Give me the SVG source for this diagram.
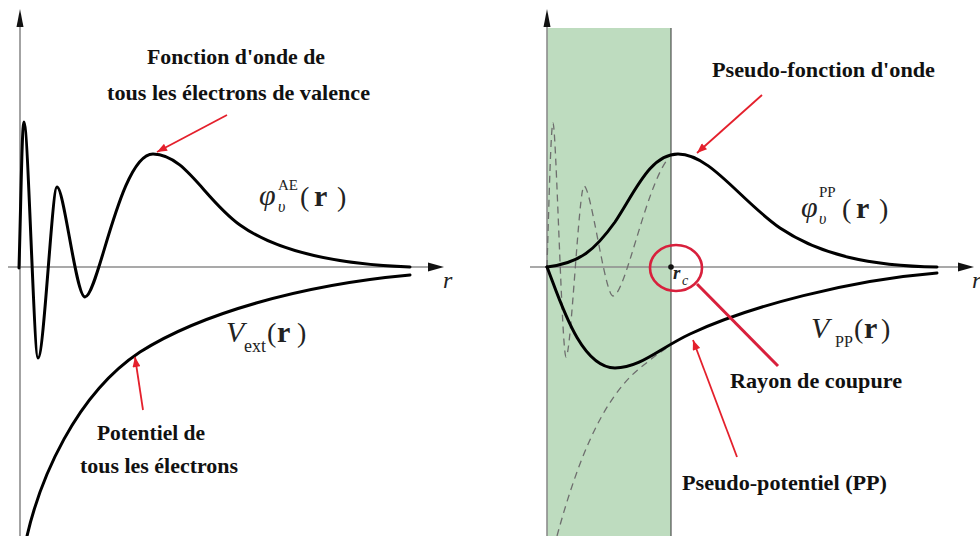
<svg xmlns="http://www.w3.org/2000/svg" width="980" height="536" viewBox="0 0 980 536">
<defs>
<style>
.axis{stroke:#8c8c8c;stroke-width:1.6;fill:none}
.curve{stroke:#000;stroke-width:3;fill:none;stroke-linecap:round;stroke-linejoin:round}
.dash{stroke:#6e6e6e;stroke-width:1.3;fill:none;stroke-dasharray:7 5}
.red{stroke:#e4202c;stroke-width:1.8;fill:none}
.lbl{font-family:'Liberation Serif','DejaVu Serif',serif;font-weight:bold;font-size:21px;fill:#111}
.m{font-family:'Liberation Serif','DejaVu Serif',serif;fill:#222}
.it{font-style:italic}
.bd{font-weight:bold}
</style>
<marker id="ah" viewBox="0 0 10 8" refX="10" refY="4" markerWidth="11" markerHeight="8" markerUnits="userSpaceOnUse" orient="auto">
<path d="M0,0 L10,4 L0,8 z" fill="#e4202c"/>
</marker>
</defs>
<rect width="980" height="536" fill="#fff"/>

<g id="core-region">
<rect x="547" y="28" width="124" height="508" fill="#bedcbf"/>
<line x1="671" y1="28" x2="671" y2="536" stroke="#333" stroke-width="1"/>
</g>

<g id="axes">
<line class="axis" x1="20" y1="536" x2="20" y2="20"/>
<polygon points="20,9 16.5,27 23.5,27" fill="#111"/>
<line class="axis" x1="8" y1="267" x2="432" y2="267"/>
<polygon points="444,267 428,262.5 428,271.5" fill="#111"/>
<text class="m it" x="443" y="288" font-size="24">r</text>
<line class="axis" x1="547" y1="536" x2="547" y2="20"/>
<polygon points="547,9 543.5,27 550.5,27" fill="#111"/>
<line class="axis" x1="530" y1="267" x2="962" y2="267"/>
<polygon points="974,267 958,262.5 958,271.5" fill="#111"/>
<text class="m it" x="972" y="288" font-size="24">r</text>
</g>

<g id="ae-wavefunction">
<path class="curve" d="M19,268 C21,200 22,122 24,122 C28,122 34,358 38,358 C44,358 52,187 57,187 C64,187 76,297 85,297 C98,297 120,154 153,154 C185,154 205,200 240,225 C275,250 330,264 410,267"/>
<text class="m"><tspan class="it" x="259" y="205" font-size="30">φ</tspan><tspan class="it" x="278" y="212" font-size="16">υ</tspan><tspan x="278" y="190" font-size="15">AE</tspan><tspan x="300" y="206" font-size="28">(</tspan><tspan class="bd" x="314" y="206" font-size="30">r</tspan><tspan x="337" y="206" font-size="28">)</tspan></text>
</g>

<g id="v-ext">
<path class="curve" d="M27,536 C40,480 75,395 140,352 C200,314 300,285 410,275"/>
<text class="m"><tspan class="it" x="226" y="342" font-size="30">V</tspan><tspan x="244" y="352" font-size="18">ext</tspan><tspan x="267" y="342" font-size="28">(</tspan><tspan class="bd" x="277" y="342" font-size="30">r</tspan><tspan x="297" y="342" font-size="28">)</tspan></text>
</g>

<g id="ae-reference-dashed">
<path class="dash" d="M547,267 C549,200 551,123 553,123 C556,123 562,357 566,357 C571,357 579,186 584,186 C591,186 605,296 613,296 C625,296 645,190 667,160"/>
<path class="dash" d="M557,536 C575,470 600,400 640,368 C650,360 660,352 671,345"/>
</g>

<g id="pp-wavefunction">
<path class="curve" d="M547,267 C580,263 595,250 615,222 C635,192 650,154 678,154 C710,154 740,200 780,228 C820,255 870,266 937,267"/>
<text class="m"><tspan class="it" x="801" y="217" font-size="30">φ</tspan><tspan class="it" x="819" y="224" font-size="16">υ</tspan><tspan x="819" y="197" font-size="15">PP</tspan><tspan x="842" y="218" font-size="28">(</tspan><tspan class="bd" x="856" y="218" font-size="30">r</tspan><tspan x="879" y="218" font-size="28">)</tspan></text>
</g>

<g id="v-pp">
<path class="curve" d="M547,267 C560,300 580,368 615,368 C640,368 660,348 690,334 C750,306 850,280 937,273"/>
<text class="m"><tspan class="it" x="811" y="338" font-size="30">V</tspan><tspan x="835" y="347" font-size="16">PP</tspan><tspan x="854" y="338" font-size="28">(</tspan><tspan class="bd" x="864" y="338" font-size="30">r</tspan><tspan x="881" y="338" font-size="28">)</tspan></text>
</g>

<g id="cutoff-radius">
<circle cx="671" cy="267" r="2.8" fill="#111"/>
<ellipse cx="676" cy="268" rx="26" ry="23" fill="none" stroke="#d8203c" stroke-width="2.6"/>
<text class="m"><tspan class="it bd" x="673" y="279" font-size="19">r</tspan><tspan class="it" x="682" y="285" font-size="14">c</tspan></text>
</g>

<g id="labels">
<text class="lbl" x="147" y="64" textLength="178" lengthAdjust="spacingAndGlyphs">Fonction d'onde de</text>
<text class="lbl" x="107" y="100" textLength="263" lengthAdjust="spacingAndGlyphs">tous les électrons de valence</text>
<text class="lbl" x="97" y="440" textLength="108" lengthAdjust="spacingAndGlyphs">Potentiel de</text>
<text class="lbl" x="80" y="473" textLength="158" lengthAdjust="spacingAndGlyphs">tous les électrons</text>
<text class="lbl" x="712" y="77" textLength="223" lengthAdjust="spacingAndGlyphs">Pseudo-fonction d'onde</text>
<text class="lbl" x="730" y="388" textLength="172" lengthAdjust="spacingAndGlyphs">Rayon de coupure</text>
<text class="lbl" x="682" y="490" textLength="205" lengthAdjust="spacingAndGlyphs">Pseudo-potentiel (PP)</text>
</g>

<g id="connectors">
<line class="red" x1="227" y1="115" x2="157" y2="152" marker-end="url(#ah)"/>
<line class="red" x1="143" y1="410" x2="135" y2="357" marker-end="url(#ah)"/>
<line class="red" x1="762" y1="95" x2="697" y2="153" marker-end="url(#ah)"/>
<line class="red" x1="737" y1="457" x2="693" y2="340" marker-end="url(#ah)"/>
<line x1="697" y1="284" x2="778" y2="366" stroke="#d8203c" stroke-width="3"/>
</g>
</svg>
